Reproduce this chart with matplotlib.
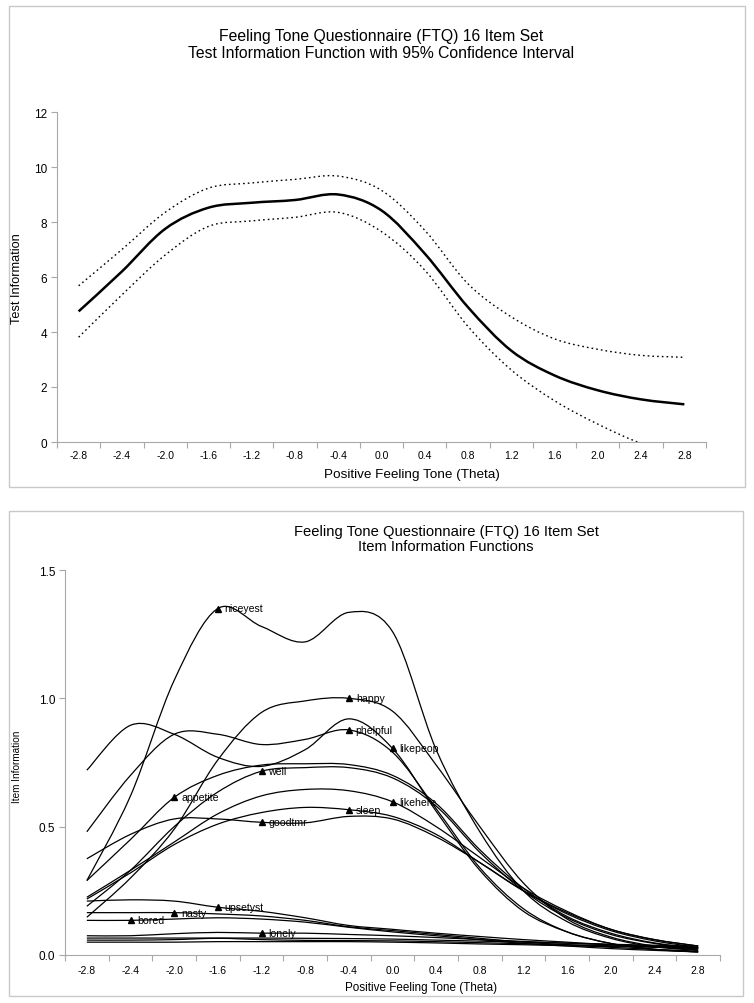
import numpy as np
import matplotlib.pyplot as plt
from matplotlib.path import Path
from matplotlib.patches import PathPatch, Rectangle

# theta grid (category axis)
theta = [-2.8, -2.4, -2.0, -1.6, -1.2, -0.8, -0.4, 0.0, 0.4, 0.8, 1.2, 1.6, 2.0, 2.4, 2.8]
theta_labels = ["-2.8", "-2.4", "-2.0", "-1.6", "-1.2", "-0.8", "-0.4", "0.0",
                "0.4", "0.8", "1.2", "1.6", "2.0", "2.4", "2.8"]

# test information function and 95% CI
tif = [4.75, 6.2, 7.75, 8.52, 8.7, 8.8, 9.0, 8.42, 6.85, 4.9, 3.32, 2.42, 1.88, 1.55, 1.37]
tif_upper = [5.68, 7.0, 8.35, 9.23, 9.42, 9.55, 9.67, 9.15, 7.7, 5.75, 4.55, 3.75, 3.37, 3.15, 3.08]
tif_lower = [3.81, 5.35, 6.8, 7.84, 8.04, 8.17, 8.35, 7.65, 6.25, 4.2, 2.62, 1.5, 0.65, -0.05, -0.5]

# item information functions
niceyest = [0.29, 0.62, 1.07, 1.35, 1.28, 1.22, 1.335, 1.26, 0.80, 0.48, 0.25, 0.13, 0.065, 0.032, 0.018]
happy = [0.147, 0.30, 0.49, 0.76, 0.945, 0.99, 1.0, 0.95, 0.74, 0.50, 0.28, 0.14, 0.07, 0.035, 0.02]
likepeop = [0.72, 0.895, 0.86, 0.77, 0.735, 0.80, 0.92, 0.805, 0.56, 0.33, 0.17, 0.09, 0.045, 0.022, 0.012]
phelpful = [0.48, 0.70, 0.86, 0.86, 0.82, 0.84, 0.877, 0.79, 0.57, 0.34, 0.18, 0.09, 0.045, 0.022, 0.012]
well = [0.19, 0.33, 0.50, 0.635, 0.716, 0.73, 0.73, 0.69, 0.58, 0.40, 0.25, 0.145, 0.08, 0.045, 0.025]
appetite = [0.29, 0.45, 0.614, 0.70, 0.74, 0.745, 0.742, 0.70, 0.59, 0.41, 0.26, 0.15, 0.085, 0.047, 0.027]
likehere = [0.225, 0.33, 0.44, 0.55, 0.62, 0.645, 0.64, 0.597, 0.50, 0.38, 0.26, 0.17, 0.10, 0.06, 0.035]
sleep = [0.218, 0.32, 0.43, 0.51, 0.555, 0.575, 0.566, 0.54, 0.47, 0.36, 0.25, 0.165, 0.10, 0.06, 0.035]
goodtmr = [0.375, 0.47, 0.53, 0.53, 0.517, 0.515, 0.54, 0.53, 0.46, 0.36, 0.25, 0.16, 0.095, 0.055, 0.03]
upsetyst = [0.21, 0.215, 0.21, 0.186, 0.17, 0.145, 0.115, 0.10, 0.085, 0.072, 0.06, 0.05, 0.04, 0.032, 0.025]
nasty = [0.165, 0.165, 0.165, 0.16, 0.152, 0.135, 0.11, 0.095, 0.08, 0.065, 0.05, 0.04, 0.03, 0.022, 0.015]
bored = [0.135, 0.135, 0.14, 0.145, 0.14, 0.128, 0.108, 0.09, 0.075, 0.06, 0.045, 0.035, 0.025, 0.018, 0.012]
lonely = [0.075, 0.075, 0.083, 0.088, 0.085, 0.085, 0.08, 0.075, 0.068, 0.06, 0.053, 0.046, 0.04, 0.034, 0.03]
item14 = [0.066, 0.066, 0.066, 0.066, 0.066, 0.065, 0.064, 0.062, 0.058, 0.054, 0.05, 0.046, 0.042, 0.038, 0.035]
item15 = [0.058, 0.058, 0.06, 0.065, 0.06, 0.057, 0.056, 0.055, 0.052, 0.048, 0.044, 0.04, 0.036, 0.032, 0.028]
item16 = [0.05, 0.05, 0.05, 0.052, 0.052, 0.052, 0.052, 0.05, 0.047, 0.043, 0.04, 0.036, 0.033, 0.03, 0.027]

item_curves = [niceyest, happy, likepeop, phelpful, well, appetite, likehere, sleep,
               goodtmr, upsetyst, nasty, bored, lonely, item14, item15, item16]
item_names = ["niceyest", "happy", "likepeop", "phelpful", "well", "appetite", "likehere", "sleep",
              "goodtmr", "upsetyst", "nasty", "bored", "lonely", None, None, None]
# index of the theta point carrying the marker / label
label_idx = [3, 6, 7, 6, 4, 2, 7, 6, 4, 3, 2, 1, 4, None, None, None]

NARROW = ["Liberation Sans Narrow", "Liberation Sans", "DejaVu Sans"]
REG = ["Liberation Sans", "DejaVu Sans"]
AXCOL = "#a8a8a8"
W, H = 754, 1004


def smooth_path(x, y):
    # excel style smoothed line: cubic bezier through every point
    x = np.asarray(x, float)
    y = np.asarray(y, float)
    n = len(x)
    verts = [(x[0], y[0])]
    codes = [Path.MOVETO]
    for i in range(n - 1):
        i0 = max(i - 1, 0)
        i3 = min(i + 2, n - 1)
        c1 = (x[i] + (x[i + 1] - x[i0]) / 6, y[i] + (y[i + 1] - y[i0]) / 6)
        c2 = (x[i + 1] - (x[i3] - x[i]) / 6, y[i + 1] - (y[i3] - y[i]) / 6)
        verts += [c1, c2, (x[i + 1], y[i + 1])]
        codes += [Path.CURVE4] * 3
    return Path(verts, codes)


def smooth_line(ax, x, y, **kw):
    ax.add_patch(PathPatch(smooth_path(x, y), facecolor="none", edgecolor="black", **kw))


def px_axes(fig, x0, y0, x1, y1):
    return fig.add_axes([x0 / W, 1 - y1 / H, (x1 - x0) / W, (y1 - y0) / H])


def style_axes(ax, ymax, yticks, yfmt, xpad):
    bounds = np.round(np.arange(-3.0, 3.01, 0.4), 1)
    ax.set_xlim(-3.0, 3.0)
    ax.set_ylim(0, ymax)
    ax.set_xticks(bounds, labels=[""] * len(bounds))
    ax.set_xticks(theta, labels=theta_labels, minor=True)
    ax.tick_params(axis="x", which="major", length=4, color=AXCOL, direction="out")
    ax.tick_params(axis="x", which="minor", length=0, pad=xpad, labelsize=7.5)
    ax.set_yticks(yticks, labels=[yfmt % v for v in yticks])
    ax.tick_params(axis="y", length=4, color=AXCOL, labelsize=8.5, pad=3)
    for lab in ax.get_xticklabels(minor=True) + ax.get_yticklabels():
        lab.set_family(NARROW)
    for s in ["top", "right"]:
        ax.spines[s].set_visible(False)
    for s in ["left", "bottom"]:
        ax.spines[s].set_color(AXCOL)
        ax.spines[s].set_linewidth(0.8)


fig = plt.figure(figsize=(W / 100, H / 100), dpi=100)

# panel frames
for (x0, y0, x1, y1) in [(9, 7, 745, 488), (9, 512, 743, 997)]:
    fig.add_artist(Rectangle((x0 / W, 1 - y1 / H), (x1 - x0) / W, (y1 - y0) / H,
                             transform=fig.transFigure, fill=False, ec="#c8c8c8", lw=1.0))

# ---- top panel: test information ----
ax1 = px_axes(fig, 57, 113, 706, 443)
style_axes(ax1, 12, [0, 2, 4, 6, 8, 10, 12], "%d", 5.5)
smooth_line(ax1, theta, tif, lw=1.8)
smooth_line(ax1, theta, tif_upper, lw=1.0, linestyle=(0, (1.2, 2.2)))
smooth_line(ax1, theta, tif_lower, lw=1.0, linestyle=(0, (1.2, 2.2)))

fig.text(381 / W, 1 - 36 / H, "Feeling Tone Questionnaire (FTQ) 16 Item Set",
         ha="center", va="center", fontsize=11.3, family=NARROW)
fig.text(381 / W, 1 - 54 / H, "Test Information Function with 95% Confidence Interval",
         ha="center", va="center", fontsize=11.3, family=NARROW)
fig.text(412 / W, 1 - 475 / H, "Positive Feeling Tone (Theta)",
         ha="center", va="center", fontsize=9.7, family=NARROW)
fig.text(17 / W, 1 - 279 / H, "Test Information", rotation=90,
         ha="center", va="center", fontsize=9.2, family=REG)

# ---- bottom panel: item information ----
ax2 = px_axes(fig, 65, 571, 720, 956)
style_axes(ax2, 1.5, [0.0, 0.5, 1.0, 1.5], "%.1f", 7)
for curve, name, k in zip(item_curves, item_names, label_idx):
    smooth_line(ax2, theta, curve, lw=0.9)
    if name is not None:
        ax2.plot(theta[k], curve[k], marker="^", color="black", markersize=5, linestyle="none")
        ax2.annotate(name, (theta[k], curve[k]), xytext=(5, 0), textcoords="offset points",
                     ha="left", va="center", fontsize=7.6, family=REG)

fig.text(446 / W, 1 - 532 / H, "Feeling Tone Questionnaire (FTQ) 16 Item Set",
         ha="center", va="center", fontsize=10.6, family=NARROW)
fig.text(446 / W, 1 - 547 / H, "Item Information Functions",
         ha="center", va="center", fontsize=10.6, family=NARROW)
fig.text(421 / W, 1 - 988 / H, "Positive Feeling Tone (Theta)",
         ha="center", va="center", fontsize=8.4, family=REG)
fig.text(17 / W, 1 - 767 / H, "Item Information", rotation=90,
         ha="center", va="center", fontsize=7.2, family=REG)

fig.savefig("out.png", dpi=100)
